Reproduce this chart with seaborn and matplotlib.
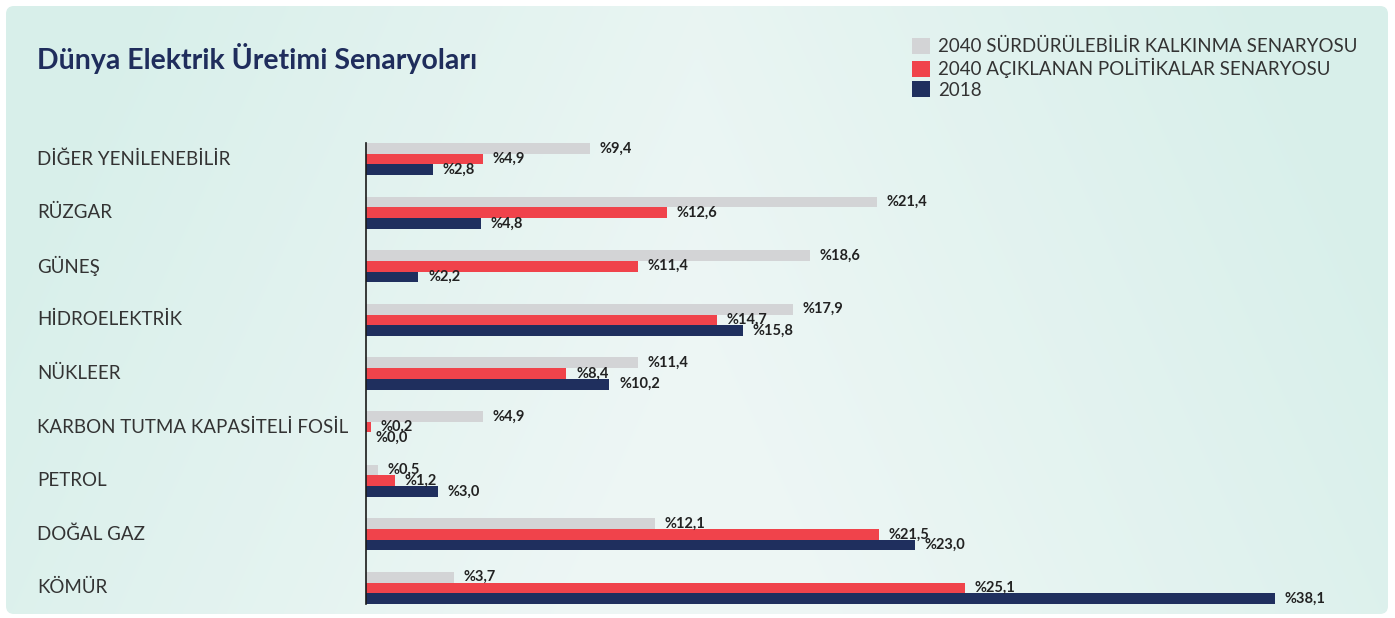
import numpy as np
import pandas as pd
import seaborn as sns
import matplotlib.pyplot as plt
from matplotlib.patches import FancyBboxPatch, Patch
from matplotlib.transforms import blended_transform_factory

categories = ["DİĞER YENİLENEBİLİR", "RÜZGAR", "GÜNEŞ", "HİDROELEKTRİK", "NÜKLEER",
              "KARBON TUTMA KAPASİTELİ FOSİL", "PETROL", "DOĞAL GAZ", "KÖMÜR"]
sds_2040 = [9.4, 21.4, 18.6, 17.9, 11.4, 4.9, 0.5, 12.1, 3.7]
steps_2040 = [4.9, 12.6, 11.4, 14.7, 8.4, 0.2, 1.2, 21.5, 25.1]
actual_2018 = [2.8, 4.8, 2.2, 15.8, 10.2, 0.0, 3.0, 23.0, 38.1]
series_names = ["2040 SÜRDÜRÜLEBİLİR KALKINMA SENARYOSU",
                "2040 AÇIKLANAN POLİTİKALAR SENARYOSU",
                "2018"]
colors = ["#d3d4d6", "#f0434b", "#1f2f5e"]

sns.set_theme(style="white")
plt.rcParams['font.family'] = ['Lato', 'DejaVu Sans']

df = pd.DataFrame({
    "kategori": categories * 3,
    "deger": sds_2040 + steps_2040 + actual_2018,
    "seri": [series_names[0]] * 9 + [series_names[1]] * 9 + [series_names[2]] * 9,
})

W, H = 1395, 618
fig = plt.figure(figsize=(W / 100, H / 100), dpi=100)
fig.patch.set_facecolor("white")

# background panel with soft mint gradient
bg = fig.add_axes([0, 0, 1, 1], zorder=-10)
bg.set_xlim(0, W)
bg.set_ylim(H, 0)
bg.axis("off")
xx, yy = np.meshgrid(np.linspace(0, 1, 300), np.linspace(0, 1, 150))
t = np.clip(1 - np.abs(xx - 0.5) * 2 + (yy - 0.5) * 0.4, 0, 1)
c0 = np.array([0.85, 0.94, 0.92])
c1 = np.array([0.93, 0.965, 0.96])
img = c0[None, None, :] * (1 - t[..., None]) + c1[None, None, :] * t[..., None]
panel = FancyBboxPatch((6, 6), 1382, 608, boxstyle="round,pad=0,rounding_size=8",
                       facecolor="none", edgecolor="none", transform=bg.transData)
bg.add_patch(panel)
im = bg.imshow(img, extent=(6, 1388, 614, 6), aspect="auto", interpolation="bilinear")
im.set_clip_path(panel)

ax_left = 366 / W
ax_right = 1340 / W
ax_top = 1 - 143 / H
ax_bottom = 1 - 604 / H
ax = fig.add_axes([ax_left, ax_bottom, ax_right - ax_left, ax_top - ax_bottom])
ax.patch.set_alpha(0)

sns.barplot(data=df, x="deger", y="kategori", hue="seri", hue_order=series_names,
            order=categories, palette=colors, width=0.6, orient="h",
            saturation=1, legend=False, linewidth=0, ax=ax)

ax.set_xlim(0, (1340 - 366) / ((1275 - 366) / 38.1))
ax.set_ylim(8.3, -0.3)
ax.set_xlabel("")
ax.set_ylabel("")
ax.set_xticks([])
ax.set_yticks([])
for s in ["top", "right", "bottom"]:
    ax.spines[s].set_visible(False)
ax.spines["left"].set_color("#1a1a1a")
ax.spines["left"].set_linewidth(1.2)

for cont, vals in zip(ax.containers, [sds_2040, steps_2040, actual_2018]):
    labels = ["%" + f"{v:.1f}".replace(".", ",") for v in vals]
    ax.bar_label(cont, labels=labels, padding=7, fontsize=10.5,
                 fontweight="bold", color="#222222")

tr = blended_transform_factory(fig.transFigure, ax.transData)
for i, cat in enumerate(categories):
    fig.text(37 / W, i, cat, transform=tr, ha="left", va="center",
             fontsize=13.5, color="#333333")

fig.text(37 / W, 1 - 58 / H, "Dünya Elektrik Üretimi Senaryoları", ha="left",
         va="center", fontsize=20.5, fontweight="bold", color="#1f2d5c")

handles = [Patch(facecolor=c, edgecolor="none") for c in colors]
fig.legend(handles, series_names, loc="upper left",
           bbox_to_anchor=(895 / W, 1 - 21 / H), frameon=False, fontsize=13.5,
           handlelength=0.95, handleheight=0.95, handletextpad=0.45,
           labelspacing=0.15, labelcolor="#333333")

fig.savefig("out.png", dpi=100)
